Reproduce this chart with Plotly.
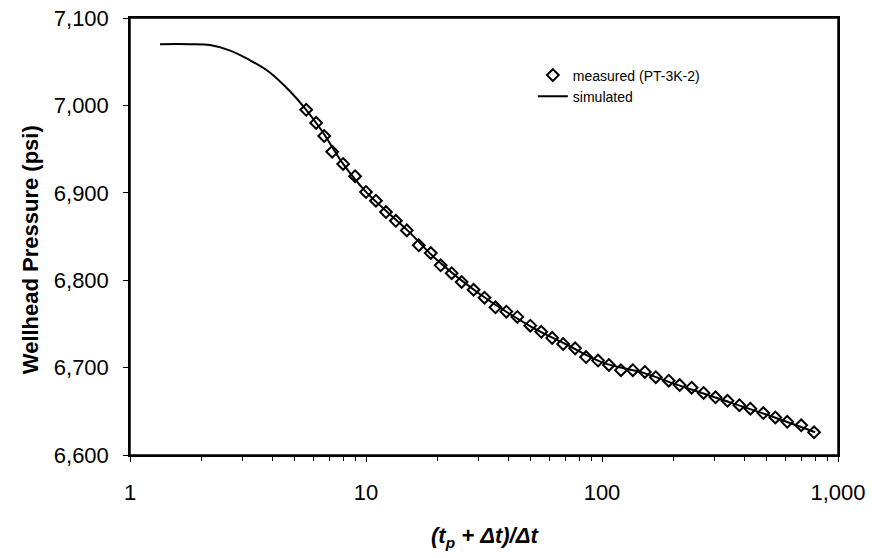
import plotly.graph_objects as go

# Measured data (PT-3K-2): Horner time ratio and wellhead pressure (psi)
meas_t = [5.58, 6.15, 6.65, 7.19, 8.00, 8.99, 10.0, 11.02, 12.15, 13.38, 14.89,
          16.73, 18.81, 20.72, 23.07, 25.42, 28.56, 31.78, 35.36, 39.34, 43.79,
          49.69, 55.28, 61.52, 68.45, 76.93, 85.58, 96.2, 107.0, 120.3, 135.1,
          151.9, 169.0, 191.8, 213.3, 239.8, 269.4, 302.7, 340.2, 382.3, 425.4,
          482.6, 542.4, 609.4, 698.2, 791.8]
meas_p = [6995, 6980, 6965, 6947, 6933, 6919, 6901, 6891, 6878, 6868, 6857,
          6840, 6831, 6817, 6808, 6798, 6789, 6780, 6769, 6764, 6758,
          6748, 6741, 6734, 6727, 6722, 6712, 6708, 6703, 6697, 6697,
          6695, 6689, 6685, 6680, 6677, 6671, 6666, 6662, 6657, 6653,
          6648, 6643, 6638, 6634, 6626]

# Simulated curve
sim_t = [1.34, 1.8, 2.18, 2.64, 3.21, 3.9, 4.73, 5.58, 6.5, 8.0, 10.0, 15.0, 20.0,
         30.0, 50.0, 70.0, 100.0, 150.0, 200.0, 300.0, 500.0, 800.0]
sim_p = [7070, 7070, 7069, 7063, 7052, 7038, 7017, 6995, 6971, 6933, 6901, 6857, 6823,
         6785, 6747, 6727, 6706, 6694, 6682, 6666, 6646, 6626]

x_tickvals = [1, 10, 100, 1000]
x_ticktext = ["1", "10", "100", "1,000"]
x_minorvals = [2, 3, 4, 5, 6, 7, 8, 9, 20, 30, 40, 50, 60, 70, 80, 90,
               200, 300, 400, 500, 600, 700, 800, 900]
y_tickvals = [6600, 6700, 6800, 6900, 7000, 7100]

FONT = "Arial, Liberation Sans, Helvetica, sans-serif"

fig = go.Figure()
fig.add_trace(go.Scatter(
    x=meas_t, y=meas_p, mode="markers", name="measured (PT-3K-2)",
    marker=dict(symbol="diamond-open", size=9, color="black",
                line=dict(width=2, color="black")),
))
fig.add_trace(go.Scatter(
    x=sim_t, y=sim_p, mode="lines", name="simulated",
    line=dict(color="black", width=2, shape="spline"),
))

fig.update_layout(
    width=872, height=558,
    margin=dict(l=130, r=34, t=18, b=103),
    paper_bgcolor="white", plot_bgcolor="white",
    font=dict(family=FONT, color="black", size=22),
    showlegend=True,
    legend=dict(x=0.569, y=0.905, xanchor="left", yanchor="top",
                bgcolor="rgba(0,0,0,0)", font=dict(size=14, family=FONT),
                itemwidth=30, tracegroupgap=0),
    xaxis=dict(type="log", range=[0, 3], tickmode="array",
               tickvals=x_tickvals, ticktext=x_ticktext,
               ticks="outside", ticklen=5, tickwidth=1, tickcolor="black",
               minor=dict(tickmode="array", tickvals=x_minorvals, ticks="outside",
                          ticklen=4, tickwidth=1, tickcolor="black", showgrid=False),
               showline=True, linecolor="black", linewidth=1.5, mirror=True,
               showgrid=False, zeroline=False, ticklabelstandoff=12,
               ticklabeloverflow="allow",
               automargin=False, tickfont=dict(size=22)),
    yaxis=dict(range=[6600, 7100], tickvals=y_tickvals, tickformat=",",
               ticks="outside", ticklen=5, tickwidth=1, tickcolor="black",
               showline=True, linecolor="black", linewidth=1.5, mirror=True,
               showgrid=False, zeroline=False, ticklabelstandoff=10,
               ticklabeloverflow="allow",
               automargin=False, tickfont=dict(size=22)),
    shapes=[dict(type="rect", xref="paper", yref="paper", x0=0, x1=1, y0=0, y1=1,
                 line=dict(color="black", width=1.5), fillcolor="rgba(0,0,0,0)",
                 layer="above")],
    annotations=[
        dict(text="<b>Wellhead Pressure (psi)</b>", xref="paper", yref="paper",
             x=-0.141, y=0.469, textangle=-90, showarrow=False,
             font=dict(size=22, family=FONT), xanchor="center", yanchor="middle"),
        dict(text="<b><i>(t<sub>p</sub> + Δt)/Δt</i></b>", xref="paper", yref="paper",
             x=0.501, y=-0.188, showarrow=False,
             font=dict(size=22, family=FONT), xanchor="center", yanchor="middle"),
    ],
)

fig.write_html("out.html", config={"displayModeBar": False},
               post_script="document.body.style.margin='0px';")
